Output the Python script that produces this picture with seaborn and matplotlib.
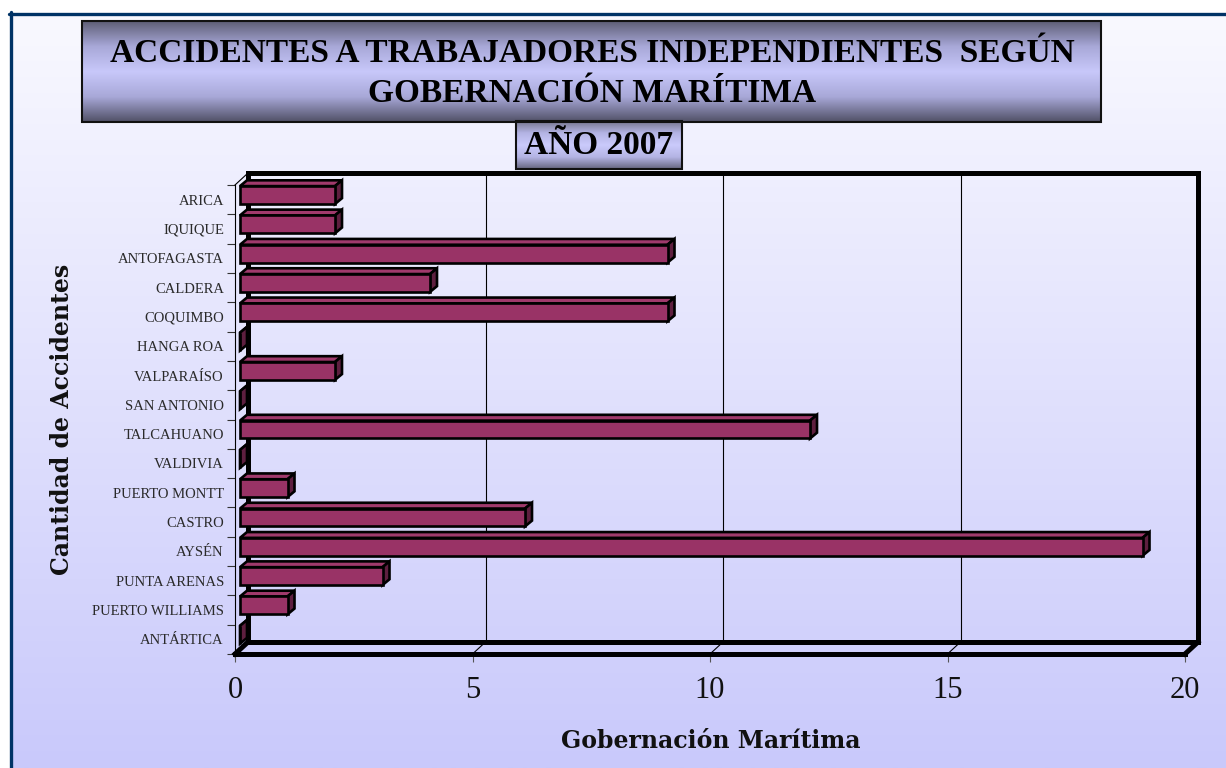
import numpy as np
import matplotlib
matplotlib.use('Agg')
import matplotlib.pyplot as plt
import seaborn as sns
from matplotlib.colors import LinearSegmentedColormap
from matplotlib.patches import Polygon, Rectangle

# datos
gobernaciones = ['ARICA', 'IQUIQUE', 'ANTOFAGASTA', 'CALDERA', 'COQUIMBO', 'HANGA ROA',
                 'VALPARAÍSO', 'SAN ANTONIO', 'TALCAHUANO', 'VALDIVIA', 'PUERTO MONTT',
                 'CASTRO', 'AYSÉN', 'PUNTA ARENAS', 'PUERTO WILLIAMS', 'ANTÁRTICA']
accidentes = [2, 2, 9, 4, 9, 0, 2, 0, 12, 0, 1, 6, 19, 3, 1, 0]
x_ticks = [0, 5, 10, 15, 20]

titulo_1 = 'ACCIDENTES A TRABAJADORES INDEPENDIENTES  SEGÚN'
titulo_2 = 'GOBERNACIÓN MARÍTIMA'
subtitulo = 'AÑO 2007'

sns.set_theme(style='white')
plt.rcParams['font.family'] = ['Liberation Serif', 'DejaVu Serif']

W, H = 1226, 768
fig = plt.figure(figsize=(W / 100, H / 100), dpi=100, facecolor='white')

# fondo con degradado y marco
bg = fig.add_axes([0, 0, 1, 1])
bg.axis('off')
grad = np.linspace(0, 1, 256).reshape(-1, 1)
cmap_bg = LinearSegmentedColormap.from_list('bg', ['#f9f9ff', '#c9c9fb'])
bg.imshow(grad, cmap=cmap_bg, extent=(10, W, H, 13), aspect='auto', zorder=0)
bg.plot([9, W], [13.5, 13.5], color='#003366', lw=2.4, zorder=1)
bg.plot([10.5, 10.5], [12, H], color='#003366', lw=2.4, zorder=1)

cmap_box = LinearSegmentedColormap.from_list(
    'box', ['#5e5e76', '#a8a8d8', '#c8c8fa', '#a8a8d8', '#505066'])
cmap_box2 = LinearSegmentedColormap.from_list(
    'box2', ['#76768f', '#b4b4e4', '#cacafc', '#b4b4e4', '#66667f'])


def caja(x0, x1, y0, y1, cmap):
    bg.imshow(grad, cmap=cmap, extent=(x0, x1, y1, y0), aspect='auto', zorder=2)
    bg.add_patch(Rectangle((x0, y0), x1 - x0, y1 - y0, fill=False,
                           ec='#111111', lw=1.5, zorder=3))


caja(82, 1101, 21, 122, cmap_box)
caja(516, 682, 121, 169, cmap_box2)
bg.text(592, 54, titulo_1, ha='center', va='center', fontsize=24,
        fontweight='bold', color='black', zorder=4)
bg.text(592, 93, titulo_2, ha='center', va='center', fontsize=24,
        fontweight='bold', color='black', zorder=4)
bg.text(599, 145, subtitulo, ha='center', va='center', fontsize=24,
        fontweight='bold', color='black', zorder=4)
bg.set_xlim(0, W)
bg.set_ylim(H, 0)

# area del grafico (plano frontal)
ax = fig.add_axes([235 / W, 1 - 654 / H, 950 / W, 469 / H])
ax.patch.set_alpha(0)

sns.barplot(x=accidentes, y=gobernaciones, orient='h', color='#993366',
            saturation=1, width=0.61, edgecolor='black', linewidth=1.9,
            ax=ax, zorder=5)
ax.set_xlim(0, 20)
ax.set_ylim(15.5, -0.5)

px2x = 20 / 950
px2y = 16 / 469

# efecto 3D de las barras
fx, fy = 5 * px2x, -4.6 * px2y
bx, by = 7 * px2x, -5.8 * px2y
for p in list(ax.patches):
    x0 = p.get_x() + fx
    y0 = p.get_y() + fy
    w, h = p.get_width(), p.get_height()
    p.set_x(x0)
    p.set_y(y0)
    p.set_clip_on(False)
    top = Polygon([(x0, y0), (x0 + w, y0), (x0 + w + bx, y0 + by), (x0 + bx, y0 + by)],
                  closed=True, fc='#a03a6c', ec='black', lw=1.9, zorder=4, clip_on=False)
    side = Polygon([(x0 + w, y0), (x0 + w, y0 + h), (x0 + w + bx, y0 + h + by),
                    (x0 + w + bx, y0 + by)],
                   closed=True, fc='#5e1f3f', ec='black', lw=1.9, zorder=4, clip_on=False)
    ax.add_patch(top)
    ax.add_patch(side)

# paredes y piso
Dx, Dy = 13 * px2x, -12 * px2y
ymin, ymax = 15.5, -0.5
grueso = 3.6
kw = dict(color='black', clip_on=False, solid_capstyle='projecting')
for t in x_ticks[1:-1]:
    ax.plot([t + Dx, t + Dx], [ymin + Dy, ymax + Dy], lw=0.8, zorder=1, **kw)
    ax.plot([t, t + Dx], [ymin, ymin + Dy], lw=0.8, zorder=1, **kw)
ax.plot([0, Dx], [ymax, ymax + Dy], lw=0.8, zorder=1, **kw)
ax.plot([Dx, 20 + Dx], [ymax + Dy, ymax + Dy], lw=grueso, zorder=2, **kw)
ax.plot([20 + Dx, 20 + Dx], [ymax + Dy, ymin + Dy], lw=grueso, zorder=2, **kw)
ax.plot([Dx, Dx], [ymax + Dy, ymin + Dy], lw=grueso, zorder=2, **kw)
ax.plot([Dx, 20 + Dx], [ymin + Dy, ymin + Dy], lw=grueso, zorder=2, **kw)
ax.plot([0, 20], [ymin, ymin], lw=grueso, zorder=3, **kw)
ax.plot([0, Dx], [ymin, ymin + Dy], lw=grueso, zorder=3, **kw)
ax.plot([20, 20 + Dx], [ymin, ymin + Dy], lw=grueso, zorder=3, **kw)

for s in ['top', 'right', 'bottom']:
    ax.spines[s].set_visible(False)
ax.spines['left'].set_linewidth(0.8)
ax.spines['left'].set_color('black')

ax.set_xticks(x_ticks)
ax.set_xticklabels([str(t) for t in x_ticks])
ax.tick_params(axis='x', bottom=True, direction='out', length=6, width=0.8,
               color='#555555', labelsize=22, pad=10, labelcolor='#111111')
ax.set_yticks(np.arange(-0.5, 16, 1), minor=True)
ax.tick_params(axis='y', which='major', left=True, length=0, pad=8,
               labelsize=10.5, labelcolor='#2a2a2a')
ax.tick_params(axis='y', which='minor', left=True, direction='out', length=6,
               width=0.8, color='#333333')
ax.set_xlabel('')
ax.set_ylabel('')

fig.text(711 / W, 1 - 741 / H, 'Gobernación Marítima', ha='center', va='center',
         fontsize=17, fontweight='bold', family='DejaVu Serif', color='#111111')
fig.text(62 / W, 1 - 419 / H, 'Cantidad de Accidentes', ha='center', va='center',
         rotation=90, fontsize=17, fontweight='bold', family='DejaVu Serif',
         color='#111111')

fig.savefig('out.png', dpi=100)
